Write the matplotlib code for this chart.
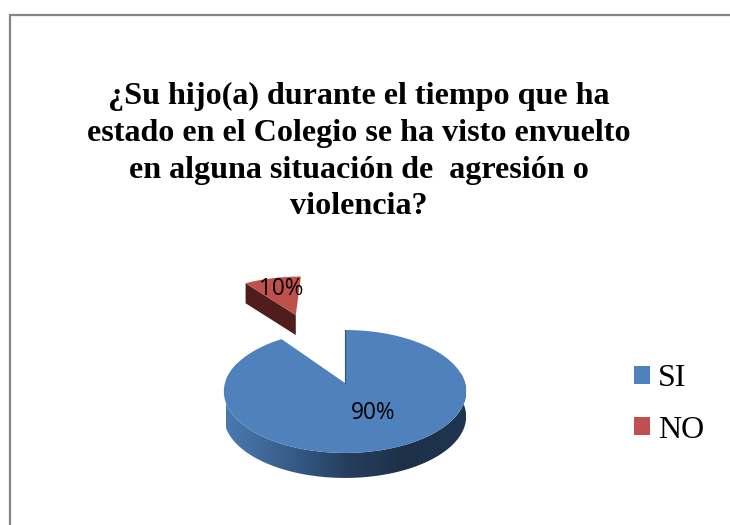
import numpy as np
import matplotlib
matplotlib.use("Agg")
import matplotlib.pyplot as plt
from matplotlib.colors import LinearSegmentedColormap
from matplotlib.patches import Patch, Polygon

title_lines = [
    "¿Su hijo(a) durante el tiempo que ha",
    "estado en el Colegio se ha visto envuelto",
    "en alguna situación de  agresión o",
    "violencia?",
]
categories = ["SI", "NO"]
values = [90, 10]
slice_labels = ["90%", "10%"]

blue = "#4f81bd"
red = "#c0504d"

# pie plane -> pixels, far side of the disc is squeezed for the 3D look
center_x = 345
center_y = 383
radius_x = 120
radius_y = 60.3
tilt = 0.138


def to_screen(u, v):
    d = 1 + tilt * v
    return center_x + radius_x * u / d, center_y - radius_y * v / d


def slice_points(start, end, offset=(0, 0), n=120):
    # angles clockwise from the top, in degrees
    a = np.radians(np.linspace(start, end, n))
    return to_screen(np.sin(a) + offset[0], np.cos(a) + offset[1])


fig = plt.figure(figsize=(7.3, 5.25), dpi=100)
ax = fig.add_axes([0, 0, 1, 1])

# chart border, only top and left are in the picture
ax.plot([10, 10, 730], [525, 15, 15], color="#868686", lw=1.6,
        solid_joinstyle="miter")

# blue slice
blue_end = 360 * values[0] / sum(values)
depth = 25
x, y = slice_points(80, 290)
side = Polygon(np.column_stack([np.r_[x, x[::-1]], np.r_[y, y[::-1] + depth]]),
               closed=True, facecolor="none", edgecolor="none")
ax.add_patch(side)
side_cmap = LinearSegmentedColormap.from_list(
    "side", ["#4a79b0", "#385f8c", "#263f5f", "#1d3048", "#1f3550"])
grad = ax.imshow(np.linspace(0, 1, 256).reshape(1, -1), cmap=side_cmap,
                 extent=[226, 466, 525, 300], aspect="auto", zorder=1)
grad.set_clip_path(side)

x, y = slice_points(0, blue_end)
apex = to_screen(0, 0)
ax.fill(np.r_[apex[0], x], np.r_[apex[1], y], color=blue, lw=0, zorder=2)
ax.plot([apex[0], x[0]], [apex[1], y[0]], color="#2f4f75", lw=0.8, zorder=2)

# red slice, pulled out of the pie
explode = 1.42
mid = np.radians(340)
offset = (explode * np.sin(mid), explode * np.cos(mid))
depth_red = 20
x, y = slice_points(blue_end, 360, offset)
ax_, ay_ = to_screen(offset[0], offset[1])
cut = [(x[0], y[0]), (ax_, ay_), (ax_, ay_ + depth_red), (x[0], y[0] + depth_red)]
ax.add_patch(Polygon(cut, closed=True, facecolor="#4f1d1b", edgecolor="none", zorder=2))
ax.fill(np.r_[ax_, x], np.r_[ay_, y], color=red, lw=0, zorder=3)

ax.text(373, 413, slice_labels[0], ha="center", va="center", fontsize=16.3,
        family="Open Sans", color="black", zorder=4)
ax.text(281, 289, slice_labels[1], ha="center", va="center", fontsize=16.3,
        family="Open Sans", color="black", zorder=4)

for line, ty in zip(title_lines, [104.3, 141, 177.7, 214.4]):
    ax.text(358.5, ty, line, ha="center", va="baseline", fontsize=23.1,
            fontweight="bold", family="Liberation Serif", color="black")

handles = [Patch(facecolor=blue), Patch(facecolor=red)]
ax.legend(handles, categories, loc="center left", bbox_to_anchor=(605, 404.5),
          bbox_transform=ax.transData, frameon=False,
          prop={"family": "Liberation Serif", "size": 23},
          handlelength=0.5, handleheight=0.5, handletextpad=0.25,
          labelspacing=0.7)

ax.set_xlim(0, 730)
ax.set_ylim(525, 0)
ax.axis("off")

fig.savefig("out.png", dpi=100, facecolor="white")
